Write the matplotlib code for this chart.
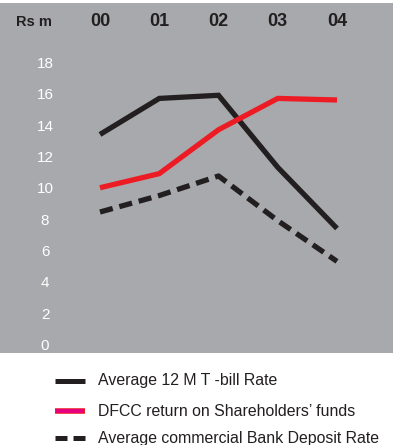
import matplotlib
matplotlib.use("Agg")
import matplotlib.pyplot as plt
from matplotlib.lines import Line2D

plt.rcParams['font.family'] = ['Liberation Sans', 'DejaVu Sans']

years = ["00", "01", "02", "03", "04"]
tbill = [13.5, 15.8, 16.0, 11.4, 7.5]
dfcc_return = [10.1, 11.0, 13.8, 15.8, 15.7]
deposit_rate = [8.55, 9.6, 10.85, 8.0, 5.4]
y_ticks = [0, 2, 4, 6, 8, 10, 12, 14, 16, 18]
legend_labels = ["Average 12 M T -bill Rate",
                 "DFCC return on Shareholders\u2019 funds",
                 "Average commercial Bank Deposit Rate"]

W, H = 393, 445
fig = plt.figure(figsize=(W / 100, H / 100), dpi=100)
fig.patch.set_facecolor("white")

panel_top, panel_bot = 3, 353
ax = fig.add_axes([0, 1 - panel_bot / H, 1, (panel_bot - panel_top) / H])
ax.set_facecolor("#a7a9ac")
for s in ax.spines.values():
    s.set_visible(False)
ax.set_xticks([])
ax.set_yticks([])

x = list(range(len(years)))
px_unit_x = 59.25
ax.set_xlim(-100 / px_unit_x, (W - 100) / px_unit_x)
px_unit_y = 15.67
ax.set_ylim(-(panel_bot - 346) / px_unit_y, (346 - panel_top) / px_unit_y)

black = "#231f20"
red = "#ed1c24"
lw = 3.8
ax.plot(x, tbill, color=black, lw=lw, solid_capstyle="butt", solid_joinstyle="miter")
ax.plot(x, dfcc_return, color=red, lw=lw, solid_capstyle="butt", solid_joinstyle="miter")
ax.plot(x, deposit_rate, color=black, lw=lw, linestyle=(0, (2.5, 1.3)), dash_capstyle="butt")

label_x = -55 / px_unit_x
for v in y_ticks:
    ax.text(label_x, v, str(v), color="white", fontsize=11, ha="center", va="center")

head_y = (346 - 22) / px_unit_y
ax.text(-66 / px_unit_x, head_y, "Rs m", color=black, fontsize=10.5, fontweight="bold",
        ha="center", va="center")
for xi, yr in zip(x, years):
    ax.text(xi, head_y, yr, color=black, fontsize=13, fontweight="bold",
            ha="center", va="center")

# legend drawn in figure pixel coordinates
rows = [381, 411, 438]
text_color = "#231f20"
for i, (row, lab) in enumerate(zip(rows, legend_labels)):
    yf = 1 - row / H
    if i == 0:
        fig.add_artist(Line2D([55 / W, 85 / W], [yf, yf], color=black, lw=3.6,
                              solid_capstyle="butt"))
    elif i == 1:
        fig.add_artist(Line2D([55 / W, 85 / W], [yf, yf], color=red, lw=4.0,
                              solid_capstyle="butt"))
        fig.add_artist(Line2D([55.7 / W, 84.3 / W], [yf, yf], color="#e6007e", lw=2.8,
                              solid_capstyle="butt"))
    else:
        fig.add_artist(Line2D([55 / W, 67 / W], [yf, yf], color=black, lw=3.6,
                              solid_capstyle="butt"))
        fig.add_artist(Line2D([73 / W, 85 / W], [yf, yf], color=black, lw=3.6,
                              solid_capstyle="butt"))
    fig.text(98 / W, yf, lab, color=text_color, fontsize=11.4, ha="left", va="center")

fig.savefig("out.png", dpi=100, facecolor=fig.get_facecolor())
